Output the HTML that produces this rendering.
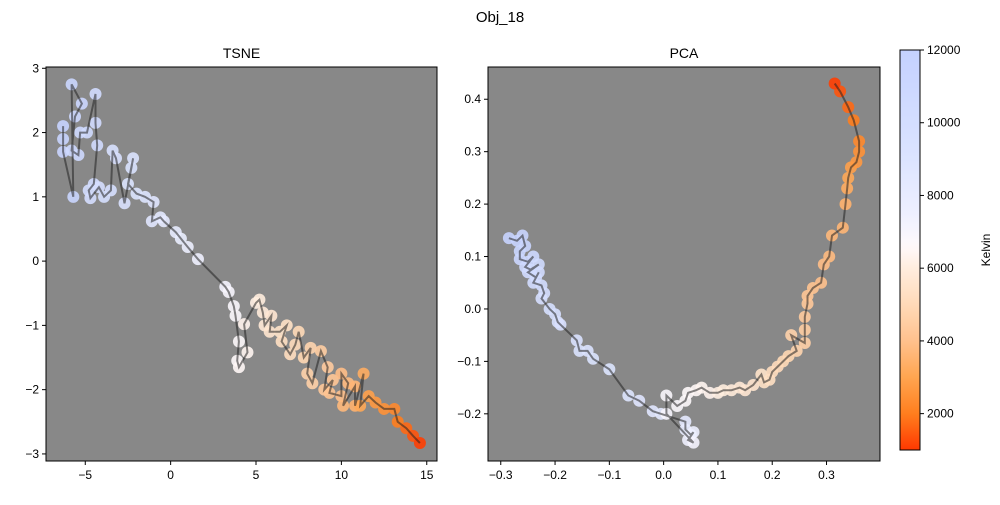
<!DOCTYPE html>
<html><head><meta charset="utf-8"><style>
body{margin:0;background:#fff;}
text{font-family:"Liberation Sans","DejaVu Sans",sans-serif;fill:#000;}
</style></head><body>
<svg id="chart" width="1000" height="500" xmlns="http://www.w3.org/2000/svg">
<defs>
<linearGradient id="cbg" x1="0" y1="1" x2="0" y2="0"></linearGradient>
</defs>
<text x="500" y="22" text-anchor="middle" font-size="15">Obj_18</text>
<g id="left"></g><g id="right"></g><g id="cbar"></g>
</svg>
<script>
const tsneX=[-6.3,-6.3,-6.3,-5.7,-5.8,-5.2,-5.6,-5.8,-5.4,-5.3,-4.9,-4.4,-4.4,-4.3,-4.5,-4.8,-4.7,-4.2,-3.9,-3.5,-3.4,-3.2,-2.7,-2.3,-2.2,-2.5,-2.0,-1.5,-1.0,-1.1,-0.6,-0.4,0.3,0.6,1.0,1.6,3.2,3.4,3.7,3.8,4.0,3.9,4.0,4.5,4.3,5.0,5.2,5.4,5.5,5.9,5.8,6.4,6.8,6.5,7.0,7.3,7.5,7.8,8.2,8.0,8.3,8.8,9.2,9.0,9.5,9.3,10.0,10.0,10.4,10.1,10.8,10.8,11.3,11.1,11.6,12.0,12.5,13.1,13.3,13.8,14.2,14.6];
const tsneY=[2.1,1.9,1.7,1.0,2.75,2.45,2.25,1.72,1.65,2.0,2.0,2.6,2.15,1.8,1.2,1.1,0.98,1.15,1.0,1.1,1.72,1.6,0.9,1.45,1.6,1.2,1.05,1.0,0.92,0.62,0.68,0.62,0.45,0.35,0.22,0.03,-0.4,-0.48,-0.7,-0.85,-1.25,-1.55,-1.65,-1.42,-0.98,-0.65,-0.6,-0.8,-1.0,-0.85,-1.1,-1.1,-1.0,-1.25,-1.45,-1.3,-1.1,-1.5,-1.35,-1.75,-1.9,-1.4,-1.65,-2.0,-1.85,-2.05,-2.1,-1.75,-1.9,-2.25,-1.95,-2.25,-1.75,-2.25,-2.1,-2.2,-2.3,-2.3,-2.5,-2.6,-2.72,-2.83];
const pcaX=[-0.285,-0.27,-0.26,-0.255,-0.265,-0.265,-0.25,-0.24,-0.255,-0.245,-0.23,-0.25,-0.235,-0.23,-0.24,-0.225,-0.22,-0.225,-0.21,-0.2,-0.195,-0.19,-0.16,-0.155,-0.14,-0.13,-0.1,-0.065,-0.045,-0.02,-0.005,0.04,0.04,0.05,0.055,0.045,0.055,0.005,0.005,0.025,0.04,0.045,0.06,0.07,0.085,0.1,0.11,0.125,0.14,0.15,0.165,0.18,0.185,0.195,0.2,0.21,0.22,0.23,0.245,0.235,0.26,0.26,0.26,0.265,0.265,0.275,0.29,0.295,0.305,0.31,0.33,0.335,0.338,0.34,0.345,0.355,0.36,0.36,0.35,0.34,0.325,0.315];
const pcaY=[0.135,0.13,0.14,0.12,0.11,0.095,0.09,0.1,0.08,0.075,0.085,0.07,0.06,0.07,0.05,0.045,0.03,0.02,0.0,-0.01,-0.025,-0.03,-0.06,-0.08,-0.08,-0.095,-0.115,-0.165,-0.175,-0.195,-0.2,-0.215,-0.23,-0.24,-0.235,-0.25,-0.255,-0.2,-0.165,-0.185,-0.175,-0.16,-0.155,-0.15,-0.16,-0.16,-0.155,-0.155,-0.15,-0.155,-0.145,-0.125,-0.14,-0.135,-0.12,-0.11,-0.1,-0.09,-0.08,-0.05,-0.065,-0.04,-0.015,0.01,0.025,0.04,0.05,0.085,0.1,0.14,0.155,0.2,0.23,0.25,0.27,0.28,0.3,0.32,0.36,0.385,0.415,0.43];
const temps=[11500,11400,11300,11200,11100,11000,10900,10800,10700,10600,10500,10400,10300,10200,10100,10000,9900,9800,9700,9600,9500,9400,9300,9200,9100,9000,8900,8800,8700,8600,8400,8200,8000,7800,7600,7400,7200,7000,6900,6800,6700,6600,6500,6400,6300,6100,6000,5900,5800,5700,5600,5500,5400,5300,5200,5100,5000,4900,4800,4700,4600,4500,4400,4300,4200,4100,4000,3900,3800,3700,3600,3500,3300,3100,2900,2700,2500,2300,2000,1700,1400,1100];
const tsneXTicks=[-5,0,5,10,15];
const tsneYTicks=[-3,-2,-1,0,1,2,3];
const pcaXTicks=[-0.3,-0.2,-0.1,0.0,0.1,0.2,0.3];
const pcaYTicks=[-0.2,-0.1,0.0,0.1,0.2,0.3,0.4];
const cbTicks=[2000,4000,6000,8000,10000,12000];

const NS="http://www.w3.org/2000/svg";
const stops=[[1000,[255,56,0]],[2000,[255,126,30]],[3000,[255,165,80]],[4000,[255,193,141]],[5000,[255,218,184]],[6000,[255,237,222]],[6600,[255,249,251]],[7500,[238,240,255]],[9000,[220,228,255]],[12000,[196,209,255]]];
function cmap(t){
  if(t<=stops[0][0])return 'rgb('+stops[0][1]+')';
  for(let i=1;i<stops.length;i++){
    if(t<=stops[i][0]){const a=stops[i-1],b=stops[i];const f=(t-a[0])/(b[0]-a[0]);
      return 'rgb('+a[1].map((v,k)=>Math.round(v+(b[1][k]-v)*f)).join(',')+')';}
  }
  return 'rgb('+stops[stops.length-1][1]+')';
}
function mk(tag,attrs,parent){const e=document.createElementNS(NS,tag);for(const k in attrs)e.setAttribute(k,attrs[k]);parent.appendChild(e);return e;}

function panel(g,box,xd,yd,xs,ys,xt,yt,title,fmt,name){
  const sx=v=>box.x+(v-xd[0])/(xd[1]-xd[0])*box.w;
  const sy=v=>box.y+box.h-(v-yd[0])/(yd[1]-yd[0])*box.h;
  const bg=mk('rect',{x:box.x,y:box.y,width:box.w,height:box.h,fill:'#888888'},g);
  
  
  const pts=mk('g',{},g);
  
  
  for(let i=0;i<xs.length;i++){
    const c=mk('circle',{cx:sx(xs[i]),cy:sy(ys[i]),r:6,fill:cmap(temps[i]),'fill-opacity':0.9},pts);
    
    
  }
  const d=xs.map((v,i)=>(i?'L':'M')+sx(v).toFixed(1)+','+sy(ys[i]).toFixed(1)).join('');
  const ln=mk('path',{d:d,fill:'none',stroke:'#222','stroke-opacity':0.55,'stroke-width':2},g);
  
  
  const fr=mk('rect',{x:box.x,y:box.y,width:box.w,height:box.h,fill:'none',stroke:'#000','stroke-width':1},g);
  
  
  xt.forEach(v=>{const x=sx(v);mk('line',{x1:x,x2:x,y1:box.y+box.h,y2:box.y+box.h+4,stroke:'#000'},g);
    const t=mk('text',{x:x,y:box.y+box.h+18,'text-anchor':'middle','font-size':12},g);t.textContent=fmt(v).replace('-','\u2212');
    });
  yt.forEach(v=>{const y=sy(v);mk('line',{x1:box.x-4,x2:box.x,y1:y,y2:y,stroke:'#000'},g);
    const t=mk('text',{x:box.x-7,y:y+4,'text-anchor':'end','font-size':12},g);t.textContent=fmt(v).replace('-','\u2212');
    });
  const tt=mk('text',{x:box.x+box.w/2,y:box.y-9,'text-anchor':'middle','font-size':14},g);tt.textContent=title;
  
}
panel(document.getElementById('left'),{x:46,y:67,w:391,h:394},[-7.3,15.6],[-3.11,3.02],tsneX,tsneY,tsneXTicks,tsneYTicks,'TSNE',v=>String(v),'tsne');
panel(document.getElementById('right'),{x:488,y:67,w:392,h:394},[-0.3235,0.3985],[-0.29,0.4615],pcaX,pcaY,pcaXTicks,pcaYTicks,'PCA',v=>v.toFixed(1),'pca');

// colorbar
const cb=document.getElementById('cbar');
const grad=document.getElementById('cbg');
for(let t=1000;t<=12000;t+=250){mk('stop',{offset:((t-1000)/11000).toFixed(4),'stop-color':cmap(t)},grad);}
const cy=v=>450-(v-1000)/11000*400;
const cr=mk('rect',{x:900,y:50,width:20,height:400,fill:'url(#cbg)',stroke:'#000','stroke-width':1},cb);


cbTicks.forEach(v=>{const y=cy(v);mk('line',{x1:920,x2:924,y1:y,y2:y,stroke:'#000'},cb);
  const t=mk('text',{x:927,y:y+4,'font-size':12},cb);t.textContent=String(v);
  });
const kl=mk('text',{x:990,y:250,'text-anchor':'middle','font-size':12,transform:'rotate(-90 990 250)'},cb);
kl.textContent='Kelvin';


</script>
</body></html>
